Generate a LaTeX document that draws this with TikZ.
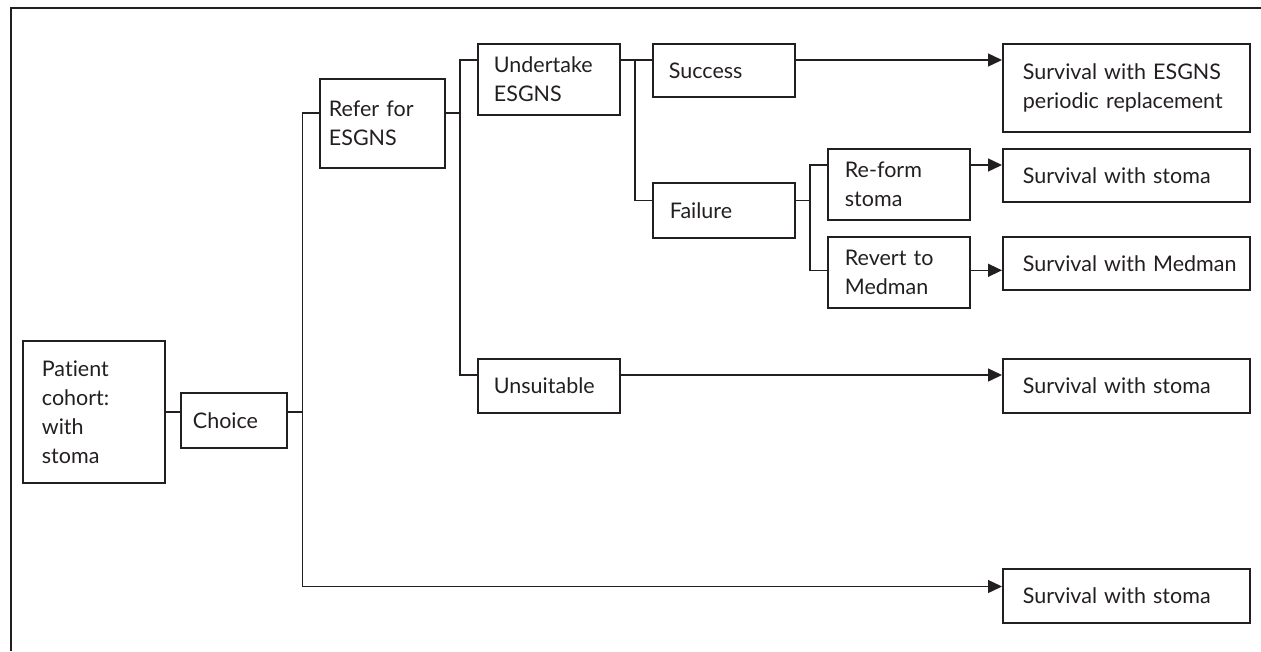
\documentclass[tikz,border=0pt]{standalone}
\usepackage{fontspec}
\setmainfont{Lato}[Ligatures=NoCommon]
\usetikzlibrary{arrows.meta}
\definecolor{ink}{HTML}{231F20}
\begin{document}
\begin{tikzpicture}[x=1pt,y=-1pt,
  box/.style={draw=ink, line width=1.8pt, rectangle, anchor=north west, align=left,
    font=\fontsize{21.5}{29}\selectfont, text=ink, inner ysep=0pt},
  conn/.style={draw=ink, line width=1.4pt},
  arr/.style={conn, -{Triangle[length=14pt,width=13pt]}},
  frame/.style={draw=ink, line width=2pt}]
\useasboundingbox (0,0) rectangle (1261,651);
\draw[frame] (10.5,651) -- (10.5,8.3) -- (1261,8.3);
% boxes
\node[box, minimum width=142, minimum height=142, text width=104, inner xsep=19] (patient) at (22,340) {Patient\\cohort:\\with\\stoma};
\node[box, minimum width=106, minimum height=55, text width=82, inner xsep=12] (choice) at (180,392) {Choice};
\node[box, minimum width=125, minimum height=89, text width=107, inner xsep=9] (refer) at (319,78) {\mbox{Refer for}\\ESGNS};
\node[box, minimum width=142, minimum height=71, text width=110, inner xsep=16] (undertake) at (477,43) {Undertake\\ESGNS};
\node[box, minimum width=142, minimum height=53, text width=110, inner xsep=16] (success) at (652,43) {Success};
\node[box, minimum width=142, minimum height=55, text width=108, inner xsep=17] (failure) at (652,182) {Failure};
\node[box, minimum width=142, minimum height=71, text width=108, inner xsep=17] (reform) at (827,148) {Re-form\\stoma};
\node[box, minimum width=142, minimum height=71, text width=108, inner xsep=17] (revert) at (827,236) {\mbox{Revert to}\\Medman};
\node[box, minimum width=142, minimum height=54, text width=110, inner xsep=16] (unsuit) at (477,358) {Unsuitable};
\node[box, minimum width=247, minimum height=88, text width=207, inner xsep=20] (s1) at (1002,43) {\mbox{Survival with ESGNS}\\\mbox{periodic replacement}};
\node[box, minimum width=247, minimum height=53, text width=207, inner xsep=20] (s2) at (1002,148) {\mbox{Survival with stoma}};
\node[box, minimum width=247, minimum height=53, text width=207, inner xsep=20] (s3) at (1002,236) {\mbox{Survival with Medman}};
\node[box, minimum width=247, minimum height=54, text width=207, inner xsep=20] (s4) at (1002,358) {\mbox{Survival with stoma}};
\node[box, minimum width=247, minimum height=54, text width=207, inner xsep=20] (s5) at (1002,568) {\mbox{Survival with stoma}};
% bus coordinates
\coordinate (k1) at (302.7,113);
\coordinate (k1b) at (302.7,586.5);
\coordinate (k2) at (460,60);
\coordinate (k2b) at (460,375);
\coordinate (k3) at (635,60);
\coordinate (k3b) at (635,200.7);
\coordinate (k4) at (810,165);
\coordinate (k4b) at (810,270.3);
% connectors
\draw[conn] (patient.east) -- (choice.west |- patient.east);
\draw[conn] (choice.east |- patient.east) -- (k1 |- patient.east);
\draw[conn] (refer.west |- k1) -- (k1) -- (k1b);
\draw[arr] (k1b) -- (s5.west |- k1b);
\draw[conn] (refer.east |- k1) -- (k2 |- k1);
\draw[conn] (undertake.west |- k2) -- (k2) -- (k2b) -- (unsuit.west |- k2b);
\draw[arr] (unsuit.east |- k2b) -- (s4.west |- k2b);
\draw[conn] (undertake.east |- k3) -- (success.west |- k3);
\draw[conn] (k3) -- (k3b) -- (failure.west |- k3b);
\draw[arr] (success.east |- k3) -- (s1.west |- k3);
\draw[conn] (failure.east |- k3b) -- (k4 |- k3b);
\draw[conn] (reform.west |- k4) -- (k4) -- (k4b) -- (revert.west |- k4b);
\draw[arr] (reform.east |- k4) -- (s2.west |- k4);
\draw[arr] (revert.east |- k4b) -- (s3.west |- k4b);
\end{tikzpicture}
\end{document}
